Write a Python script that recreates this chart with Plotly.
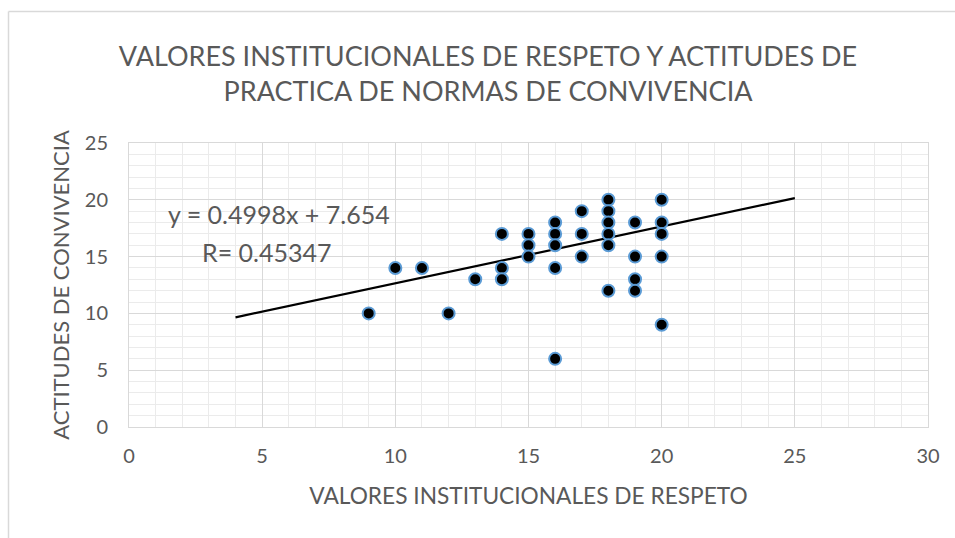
import plotly.graph_objects as go

# Data
respeto = [9, 10, 11, 12, 13,
           14, 14, 14,
           15, 15, 15,
           16, 16, 16, 16, 16,
           17, 17, 17,
           18, 18, 18, 18, 18, 18,
           19, 19, 19, 19,
           20, 20, 20, 20, 20]
convivencia = [10, 14, 14, 10, 13,
               17, 14, 13,
               17, 16, 15,
               18, 17, 16, 14, 6,
               19, 17, 15,
               20, 19, 18, 17, 16, 12,
               18, 15, 13, 12,
               20, 18, 17, 15, 9]

slope = 0.4998
intercept = 7.654
r_value = "0.45347"
trend_x = [4, 25]
trend_y = [slope * x + intercept for x in trend_x]

title_text = "VALORES INSTITUCIONALES DE RESPETO Y ACTITUDES DE<br>PRACTICA DE NORMAS DE CONVIVENCIA"
x_title = "VALORES INSTITUCIONALES DE RESPETO"
y_title = "ACTITUDES DE CONVIVENCIA"

FONT = "Lato"
GRAY = "#595959"

fig = go.Figure()
fig.add_trace(go.Scatter(
    x=trend_x, y=trend_y, mode="lines",
    line=dict(color="black", width=2.2), hoverinfo="skip", showlegend=False))
fig.add_trace(go.Scatter(
    x=respeto, y=convivencia, mode="markers",
    marker=dict(color="black", size=12, line=dict(color="#5B9BD5", width=2)),
    showlegend=False))

W, H = 955, 538
L, R, T, B = 129, 27, 143, 111
pw, ph = W - L - R, H - T - B

def px_x(p):
    return (p - L) / pw

def px_y(p):
    return (H - B - p) / ph

fig.add_annotation(
    x=px_x(279), y=px_y(214), xref="paper", yref="paper",
    text=f"y = {slope}x + {intercept}", showarrow=False,
    font=dict(family=FONT, size=25, color=GRAY), xanchor="center", yanchor="middle")
fig.add_annotation(
    x=px_x(266), y=px_y(252), xref="paper", yref="paper",
    text=f"R= {r_value}", showarrow=False,
    font=dict(family=FONT, size=25, color=GRAY), xanchor="center", yanchor="middle")

# outer chart border (top and left)
fig.add_shape(type="line", xref="paper", yref="paper",
              x0=px_x(8.5), x1=px_x(960), y0=px_y(11.5), y1=px_y(11.5),
              line=dict(color="#d9d9d9", width=1.5))
fig.add_shape(type="line", xref="paper", yref="paper",
              x0=px_x(8.5), x1=px_x(8.5), y0=px_y(11.5), y1=px_y(545),
              line=dict(color="#d9d9d9", width=1.5))

fig.update_layout(
    width=W, height=H,
    margin=dict(l=L, r=R, t=T, b=B),
    paper_bgcolor="white", plot_bgcolor="white",
    font=dict(family=FONT, color=GRAY),
    title=dict(text=title_text, x=488 / W, xref="container", xanchor="center",
               y=1 - 66 / H, yref="container", yanchor="middle",
               font=dict(family=FONT, size=27, color=GRAY)),
)
fig.update_xaxes(
    range=[0, 30], dtick=5, tick0=0,
    showgrid=True, gridcolor="#d9d9d9", gridwidth=1,
    minor=dict(dtick=1, showgrid=True, gridcolor="#ebebeb", gridwidth=1),
    showline=True, linecolor="#d9d9d9", linewidth=1, mirror=True,
    zeroline=False, ticks="", ticklabelstandoff=11,
    tickfont=dict(family=FONT, size=20, color=GRAY),
    title=dict(text=x_title, font=dict(family=FONT, size=22.7, color=GRAY), standoff=22),
)
fig.update_yaxes(
    range=[0, 25], dtick=5, tick0=0,
    showgrid=True, gridcolor="#d9d9d9", gridwidth=1,
    minor=dict(dtick=1, showgrid=True, gridcolor="#ebebeb", gridwidth=1),
    showline=True, linecolor="#d9d9d9", linewidth=1, mirror=True,
    zeroline=False, ticks="", ticklabelstandoff=16,
    tickfont=dict(family=FONT, size=20, color=GRAY),
    title=dict(text=y_title, font=dict(family=FONT, size=22, color=GRAY), standoff=9),
)

fig.write_html("out.html", post_script="document.body.style.margin='0';",
               config={"displayModeBar": False})
